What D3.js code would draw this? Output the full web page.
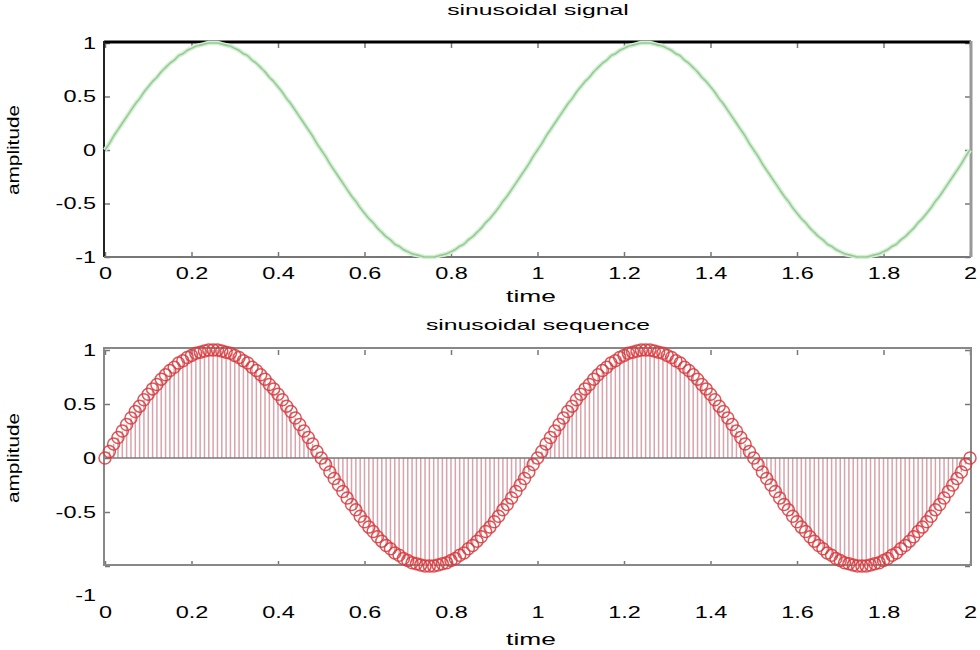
<!DOCTYPE html>
<html>
<head>
<meta charset="utf-8">
<script src="https://cdn.jsdelivr.net/npm/d3@7"></script>
<style>
  html, body { margin: 0; padding: 0; background: #fff; }
  svg { display: block; }
  text { font-family: "Liberation Sans", Arial, sans-serif; fill: #000; }
</style>
</head>
<body>
<svg id="chart" width="980" height="650"></svg>
<script>
// ---- data (samples every 0.01 s, t = 0 .. 2) ----
const amplitude = [
  0, 0.06, 0.13, 0.19, 0.25, 0.31, 0.37, 0.43, 0.48, 0.54,
  0.59, 0.64, 0.68, 0.73, 0.77, 0.81, 0.84, 0.88, 0.90, 0.93,
  0.95, 0.97, 0.98, 0.99, 1.00, 1.00, 1.00, 0.99, 0.98, 0.97,
  0.95, 0.93, 0.90, 0.88, 0.84, 0.81, 0.77, 0.73, 0.68, 0.64,
  0.59, 0.54, 0.48, 0.43, 0.37, 0.31, 0.25, 0.19, 0.13, 0.06,
  0, -0.06, -0.13, -0.19, -0.25, -0.31, -0.37, -0.43, -0.48, -0.54,
  -0.59, -0.64, -0.68, -0.73, -0.77, -0.81, -0.84, -0.88, -0.90, -0.93,
  -0.95, -0.97, -0.98, -0.99, -1.00, -1.00, -1.00, -0.99, -0.98, -0.97,
  -0.95, -0.93, -0.90, -0.88, -0.84, -0.81, -0.77, -0.73, -0.68, -0.64,
  -0.59, -0.54, -0.48, -0.43, -0.37, -0.31, -0.25, -0.19, -0.13, -0.06,
  0, 0.06, 0.13, 0.19, 0.25, 0.31, 0.37, 0.43, 0.48, 0.54,
  0.59, 0.64, 0.68, 0.73, 0.77, 0.81, 0.84, 0.88, 0.90, 0.93,
  0.95, 0.97, 0.98, 0.99, 1.00, 1.00, 1.00, 0.99, 0.98, 0.97,
  0.95, 0.93, 0.90, 0.88, 0.84, 0.81, 0.77, 0.73, 0.68, 0.64,
  0.59, 0.54, 0.48, 0.43, 0.37, 0.31, 0.25, 0.19, 0.13, 0.06,
  0, -0.06, -0.13, -0.19, -0.25, -0.31, -0.37, -0.43, -0.48, -0.54,
  -0.59, -0.64, -0.68, -0.73, -0.77, -0.81, -0.84, -0.88, -0.90, -0.93,
  -0.95, -0.97, -0.98, -0.99, -1.00, -1.00, -1.00, -0.99, -0.98, -0.97,
  -0.95, -0.93, -0.90, -0.88, -0.84, -0.81, -0.77, -0.73, -0.68, -0.64,
  -0.59, -0.54, -0.48, -0.43, -0.37, -0.31, -0.25, -0.19, -0.13, -0.06,
  0
];
const sampleStep = 0.01;
const time = amplitude.map((_, i) => +(i * sampleStep).toFixed(2));

const xTickValues = [0, 0.2, 0.4, 0.6, 0.8, 1, 1.2, 1.4, 1.6, 1.8, 2];
const xTickLabels = ["0", "0.2", "0.4", "0.6", "0.8", "1", "1.2", "1.4", "1.6", "1.8", "2"];
const yTickValues = [-1, -0.5, 0, 0.5, 1];
const yTickLabels = ["-1", "-0.5", "0", "0.5", "1"];
const titles = ["sinusoidal signal", "sinusoidal sequence"];
const xLabel = "time";
const yLabel = "amplitude";

// ---- drawing ----
const svg = d3.select("#chart");
const left = 105, right = 970;
const TICK_K = 1.38, TITLE_K = 1.65, XLAB_K = 1.55, YLAB_K = 1.3;

const panels = [
  { top: 43, bottom: 257, xPad: 10, titleY: 15, xLabelY: 302, frame: "top" },
  { top: 350, bottom: 566, xPad: 40, titleY: 330, xLabelY: 645, frame: "bottom" }
];

const x = d3.scaleLinear().domain([0, 2]).range([left, right]);

// widen glyphs along the text direction (reference text is drawn wide)
function widen(sel, k) {
  sel.each(function () {
    const t = d3.select(this);
    const x0 = +(t.attr("x") || 0);
    t.attr("x", x0 / k).attr("transform", ((t.attr("transform") || "") + ` scale(${k},1)`).trim());
  });
}

function styleAxis(g) {
  g.select(".domain").remove();
  g.selectAll(".tick line").attr("stroke", "#777").attr("stroke-width", 1.5);
  g.selectAll(".tick text").attr("font-size", 17).attr("fill", "#000")
    .attr("font-family", "Liberation Sans, Arial, sans-serif");
  widen(g.selectAll(".tick text"), TICK_K);
}

panels.forEach((p, idx) => {
  const y = d3.scaleLinear().domain([-1, 1]).range([p.bottom, p.top]);
  p.y = y;
  const g = svg.append("g");

  const fmtX = d => xTickLabels[xTickValues.indexOf(d)];
  const fmtY = d => yTickLabels[yTickValues.indexOf(d)];

  g.append("g").attr("transform", `translate(0,${p.bottom})`)
    .call(d3.axisBottom(x).tickValues(xTickValues).tickFormat(fmtX).tickSize(-5).tickPadding(p.xPad))
    .call(styleAxis);
  g.append("g").attr("transform", `translate(0,${p.top})`)
    .call(d3.axisTop(x).tickValues(xTickValues).tickFormat("").tickSize(-5))
    .call(styleAxis);
  const yAx = g.append("g").attr("transform", `translate(${left},0)`)
    .call(d3.axisLeft(y).tickValues(yTickValues).tickFormat(fmtY).tickSize(-5).tickPadding(9))
    .call(styleAxis);
  g.append("g").attr("transform", `translate(${right},0)`)
    .call(d3.axisRight(y).tickValues(yTickValues).tickFormat("").tickSize(-5))
    .call(styleAxis);

  if (idx === 1) {
    // the "-1" label sits well below the frame in the reference
    yAx.selectAll(".tick").filter(d => d === -1).select("text").attr("y", 29);
  }

  // frame
  if (p.frame === "top") {
    g.append("line").attr("x1", left - 1).attr("x2", right + 1).attr("y1", p.top - 1).attr("y2", p.top - 1)
      .attr("stroke", "#000").attr("stroke-width", 3);
    g.append("line").attr("x1", left - 1).attr("x2", left - 1).attr("y1", p.top - 2).attr("y2", p.bottom)
      .attr("stroke", "#222").attr("stroke-width", 2);
    g.append("line").attr("x1", left - 1).attr("x2", right + 1).attr("y1", p.bottom).attr("y2", p.bottom)
      .attr("stroke", "#777").attr("stroke-width", 2);
    g.append("line").attr("x1", right + 1).attr("x2", right + 1).attr("y1", p.top - 2).attr("y2", p.bottom)
      .attr("stroke", "#999").attr("stroke-width", 3);
  } else {
    g.append("rect").attr("x", left - 1).attr("y", p.top - 2).attr("width", right - left + 2).attr("height", p.bottom - p.top + 1)
      .attr("fill", "none").attr("stroke", "#888").attr("stroke-width", 2);
  }

  // titles and labels
  widen(svg.append("text").attr("x", 538).attr("y", p.titleY).attr("text-anchor", "middle")
    .attr("font-size", 15).text(titles[idx]), TITLE_K);
  widen(svg.append("text").attr("x", 531).attr("y", p.xLabelY).attr("text-anchor", "middle")
    .attr("font-size", 17).text(xLabel), XLAB_K);
  svg.append("text").attr("transform", `translate(19,${(p.top + p.bottom) / 2}) rotate(-90) scale(${YLAB_K},1)`)
    .attr("text-anchor", "middle").attr("font-size", 16).text(yLabel);
});

// top: continuous green line
const yTop = panels[0].y;
const line = d3.line().x((d, i) => x(time[i])).y(d => yTop(d)).curve(d3.curveMonotoneX);
svg.append("path").datum(amplitude).attr("d", line)
  .attr("fill", "none").attr("stroke", "#d2f2d2").attr("stroke-width", 4.5);
svg.append("path").datum(amplitude).attr("d", line)
  .attr("fill", "none").attr("stroke", "#9cc79c").attr("stroke-width", 1.6);

// bottom: stem plot
const yBot = panels[1].y;
svg.append("g").selectAll("line").data(amplitude).join("line")
  .attr("x1", (d, i) => x(time[i])).attr("x2", (d, i) => x(time[i]))
  .attr("y1", yBot(0)).attr("y2", d => yBot(d))
  .attr("stroke", "#d9a3aa").attr("stroke-width", 1.5);
svg.append("line").attr("x1", x(0)).attr("x2", x(2)).attr("y1", yBot(0)).attr("y2", yBot(0))
  .attr("stroke", "#777").attr("stroke-width", 1.5);
svg.append("g").selectAll("circle").data(amplitude).join("circle")
  .attr("cx", (d, i) => x(time[i])).attr("cy", d => yBot(d)).attr("r", 6)
  .attr("fill", "none").attr("stroke", "#d8383c").attr("stroke-width", 1.5).attr("stroke-opacity", 0.85);
</script>
</body>
</html>
